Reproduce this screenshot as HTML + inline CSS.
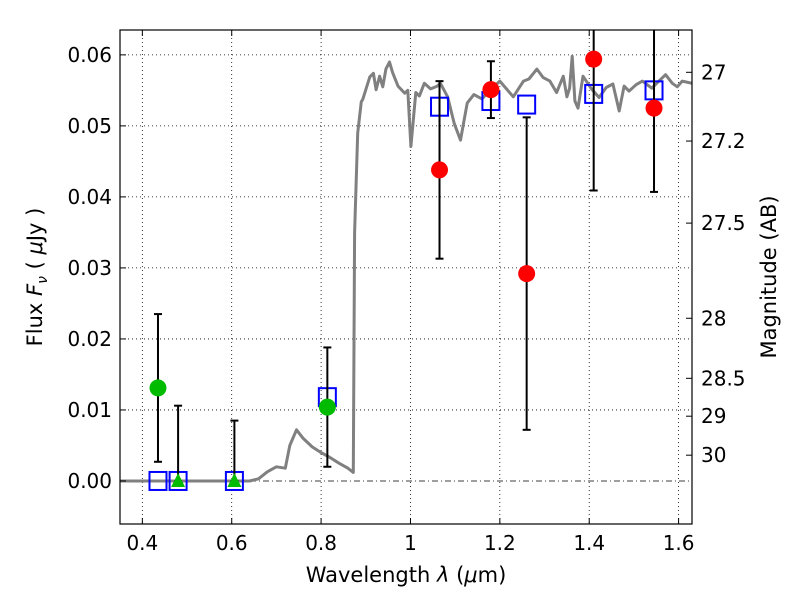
<!DOCTYPE html>
<html><head><meta charset="utf-8">
<style>
html,body{margin:0;padding:0;background:#fff;}
svg{display:block;font-family:"DejaVu Sans","Liberation Sans",sans-serif;}
</style></head>
<body>
<svg id="chart" width="800" height="600" viewBox="0 0 800 600">
<rect width="800" height="600" fill="#fff"/>
<g id="grid"></g>
<g id="plot"></g>
<rect x="120" y="30" width="572" height="494" fill="none" stroke="#000" stroke-width="1.2"/>
<g id="axes"></g>
<text x="406" y="582" text-anchor="middle" font-size="21">Wavelength  <tspan font-style="italic">λ</tspan> (<tspan font-style="italic">μ</tspan>m)</text>
<text transform="translate(42,277) rotate(-90)" text-anchor="middle" font-size="21">Flux  <tspan font-style="italic">F</tspan><tspan font-style="italic" font-size="14" dy="5">ν</tspan><tspan dy="-5">  ( </tspan><tspan font-style="italic">μ</tspan>Jy )</text>
<text transform="translate(776,277) rotate(-90)" text-anchor="middle" font-size="21">Magnitude (AB)</text>
</svg>
<script>
const specLam=[0.35,0.64,0.66,0.68,0.70,0.72,0.73,0.745,0.76,0.78,0.80,0.82,0.84,0.86,0.872,0.875,0.882,0.890,0.893,0.909,0.917,0.923,0.931,0.938,0.945,0.953,0.960,0.972,0.987,0.994,1.001,1.012,1.020,1.031,1.045,1.060,1.067,1.083,1.098,1.112,1.127,1.142,1.160,1.178,1.200,1.215,1.230,1.253,1.265,1.283,1.297,1.312,1.327,1.342,1.350,1.356,1.362,1.368,1.375,1.386,1.405,1.422,1.438,1.453,1.467,1.478,1.489,1.505,1.519,1.540,1.556,1.571,1.586,1.597,1.608,1.63];
const specFlux=[0,0,0.0003,0.0013,0.002,0.0018,0.005,0.0072,0.006,0.0048,0.004,0.0033,0.0025,0.0018,0.0012,0.035,0.049,0.0534,0.0537,0.0569,0.0574,0.0551,0.057,0.0555,0.058,0.059,0.0575,0.0556,0.0546,0.055,0.0471,0.0547,0.0542,0.056,0.0552,0.0556,0.056,0.0541,0.0503,0.048,0.0532,0.0544,0.0538,0.055,0.0563,0.0552,0.0541,0.0563,0.0566,0.058,0.0568,0.0563,0.0547,0.057,0.0541,0.0553,0.0598,0.0535,0.0525,0.057,0.0552,0.054,0.0554,0.0559,0.0521,0.0556,0.0549,0.0558,0.0563,0.0553,0.0563,0.0572,0.056,0.0555,0.0563,0.056];
const modelLam=[0.435,0.48,0.606,0.814,1.065,1.18,1.26,1.41,1.545];
const modelFlux=[0,0,0,0.0118,0.0527,0.0535,0.0530,0.0545,0.0550];
const redLam=[1.065,1.18,1.26,1.41,1.545];
const redFlux=[0.0438,0.0551,0.0292,0.0594,0.0525];
const redErr=[0.0125,0.004,0.022,0.0185,0.0118];
const greenLam=[0.435,0.814];
const greenFlux=[0.0131,0.0104];
const greenErr=[0.0104,0.0084];
const limLam=[0.48,0.606];
const limFlux=[0,0];
const limTop=[0.0106,0.0085];
const xTicks=[0.4,0.6,0.8,1.0,1.2,1.4,1.6];
const xTickLabels=["0.4","0.6","0.8","1","1.2","1.4","1.6"];
const yTicks=[0,0.01,0.02,0.03,0.04,0.05,0.06];
const yTickLabels=["0.00","0.01","0.02","0.03","0.04","0.05","0.06"];
const magTicks=[27,27.2,27.5,28,28.5,29,30];
const magLabels=["27","27.2","27.5","28","28.5","29","30"];

const X0=120,X1=692,Y0=30,Y1=524,XMIN=0.35,XMAX=1.63,YMIN=-0.00606,YMAX=0.0635;
const sx=v=>X0+(v-XMIN)/(XMAX-XMIN)*(X1-X0);
const sy=v=>Y1-(v-YMIN)/(YMAX-YMIN)*(Y1-Y0);
const NS="http://www.w3.org/2000/svg";
function mk(parent,tag,attrs,txt){const e=document.createElementNS(NS,tag);for(const k in attrs)e.setAttribute(k,attrs[k]);if(txt!==undefined)e.textContent=txt;parent.appendChild(e);return e;}
const grid=document.getElementById('grid'),plot=document.getElementById('plot'),axes=document.getElementById('axes');

xTicks.forEach((t,i)=>{
  let g=mk(grid,'line',{x1:sx(t),x2:sx(t),y1:Y0,y2:Y1,stroke:'#000','stroke-width':0.8,'stroke-dasharray':'1,3'});
  
  
  mk(axes,'line',{x1:sx(t),x2:sx(t),y1:Y1,y2:Y1-6,stroke:'#000'});
  mk(axes,'line',{x1:sx(t),x2:sx(t),y1:Y0,y2:Y0+6,stroke:'#000'});
  let l=mk(axes,'text',{x:sx(t),y:Y1+26,'text-anchor':'middle','font-size':20},xTickLabels[i]);
  
  
});
yTicks.forEach((t,i)=>{
  let g=mk(grid,'line',{x1:X0,x2:X1,y1:sy(t),y2:sy(t),stroke:'#000','stroke-width':0.8,'stroke-dasharray':t===0?'6,3,1,3':'1,3'});
  
  
  mk(axes,'line',{x1:X0,x2:X0+6,y1:sy(t),y2:sy(t),stroke:'#000'});
  let l=mk(axes,'text',{x:X0-8,y:sy(t)+7,'text-anchor':'end','font-size':20},yTickLabels[i]);
  
  
});
magTicks.forEach((m,i)=>{
  const f=Math.pow(10,(23.9-m)/2.5);
  const y=sy(f);
  mk(axes,'line',{x1:X1,x2:X1-6,y1:y,y2:y,stroke:'#000'});
  let l=mk(axes,'text',{x:X1+9,y:y+7,'font-size':20},magLabels[i]);
  
  
});

let d=specLam.map((l,i)=>(i?'L':'M')+sx(l).toFixed(1)+','+sy(specFlux[i]).toFixed(1)).join('');
let sp=mk(plot,'path',{d:d,fill:'none',stroke:'#808080','stroke-width':3,'stroke-linejoin':'round'});



function errbar(x,lo,hi){
  const g=mk(plot,'g',{});
  
  
  mk(g,'line',{x1:sx(x),x2:sx(x),y1:sy(lo),y2:sy(hi),stroke:'#000','stroke-width':2});
  mk(g,'line',{x1:sx(x)-4,x2:sx(x)+4,y1:sy(lo),y2:sy(lo),stroke:'#000','stroke-width':2});
  mk(g,'line',{x1:sx(x)-4,x2:sx(x)+4,y1:sy(hi),y2:sy(hi),stroke:'#000','stroke-width':2});
}
modelLam.forEach((l,i)=>{
  let r=mk(plot,'rect',{x:sx(l)-8.5,y:sy(modelFlux[i])-9,width:17,height:18,fill:'none',stroke:'#0000ff','stroke-width':2});
  
  
});
greenLam.forEach((l,i)=>{
  errbar(l,greenFlux[i]-greenErr[i],greenFlux[i]+greenErr[i]);
  let c=mk(plot,'circle',{cx:sx(l),cy:sy(greenFlux[i]),r:8.5,fill:'#00bb00'});
  
  
});
limLam.forEach((l,i)=>{
  errbar(l,limFlux[i],limTop[i]);
  const x=sx(l),y=sy(limFlux[i]);
  let t=mk(plot,'polygon',{points:`${x},${y-8} ${x-7},${y+6} ${x+7},${y+6}`,fill:'#00bb00'});
  
  
});
redLam.forEach((l,i)=>{
  errbar(l,redFlux[i]-redErr[i],redFlux[i]+redErr[i]);
  let c=mk(plot,'circle',{cx:sx(l),cy:sy(redFlux[i]),r:8.5,fill:'#ff0000'});
  
  
});
const cp=mk(document.getElementById('chart'),'clipPath',{id:'clip'});
mk(cp,'rect',{x:X0,y:Y0,width:X1-X0,height:Y1-Y0});
plot.setAttribute('clip-path','url(#clip)');
</script>
</body></html>
